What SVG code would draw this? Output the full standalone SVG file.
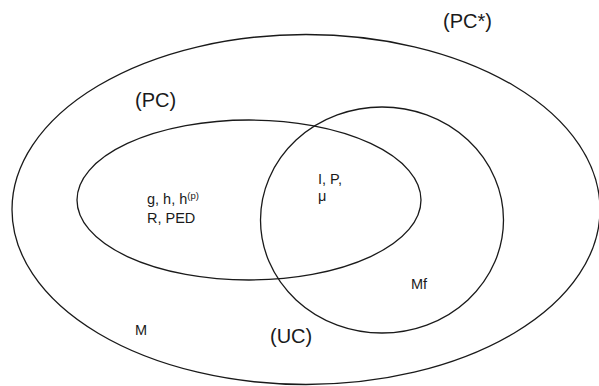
<svg xmlns="http://www.w3.org/2000/svg" width="599" height="386" viewBox="0 0 599 386">
<style>
.set{fill:none;stroke:#1a1a1a;stroke-width:1.3}
.big{font-family:"Liberation Sans",Arial,sans-serif;font-size:20px;fill:#1a1a1a}
.sm{font-family:"Liberation Sans",Arial,sans-serif;font-size:14.5px;fill:#1a1a1a}
</style>
<rect width="599" height="386" fill="#fff"/>
<g id="pcstar">
<ellipse class="set" cx="306" cy="209.5" rx="294" ry="175"/>
<text class="big" x="443" y="28">(PC*)</text>
</g>
<g id="pc">
<ellipse class="set" cx="249" cy="200" rx="172" ry="80"/>
<text class="big" x="135" y="107">(PC)</text>
</g>
<g id="uc">
<ellipse class="set" cx="382" cy="220" rx="121.5" ry="113"/>
<text class="big" x="270" y="343">(UC)</text>
</g>
<g id="labels">
<text class="sm" x="147" y="204">g, h, h<tspan font-size="9.5" dy="-5">(p)</tspan></text>
<text class="sm" x="147" y="223">R, PED</text>
<text class="sm" x="318" y="184">I, P,</text>
<text class="sm" x="318" y="201">μ</text>
<text class="sm" x="411" y="289">Mf</text>
<text class="sm" x="135" y="335">M</text>
</g>
</svg>
